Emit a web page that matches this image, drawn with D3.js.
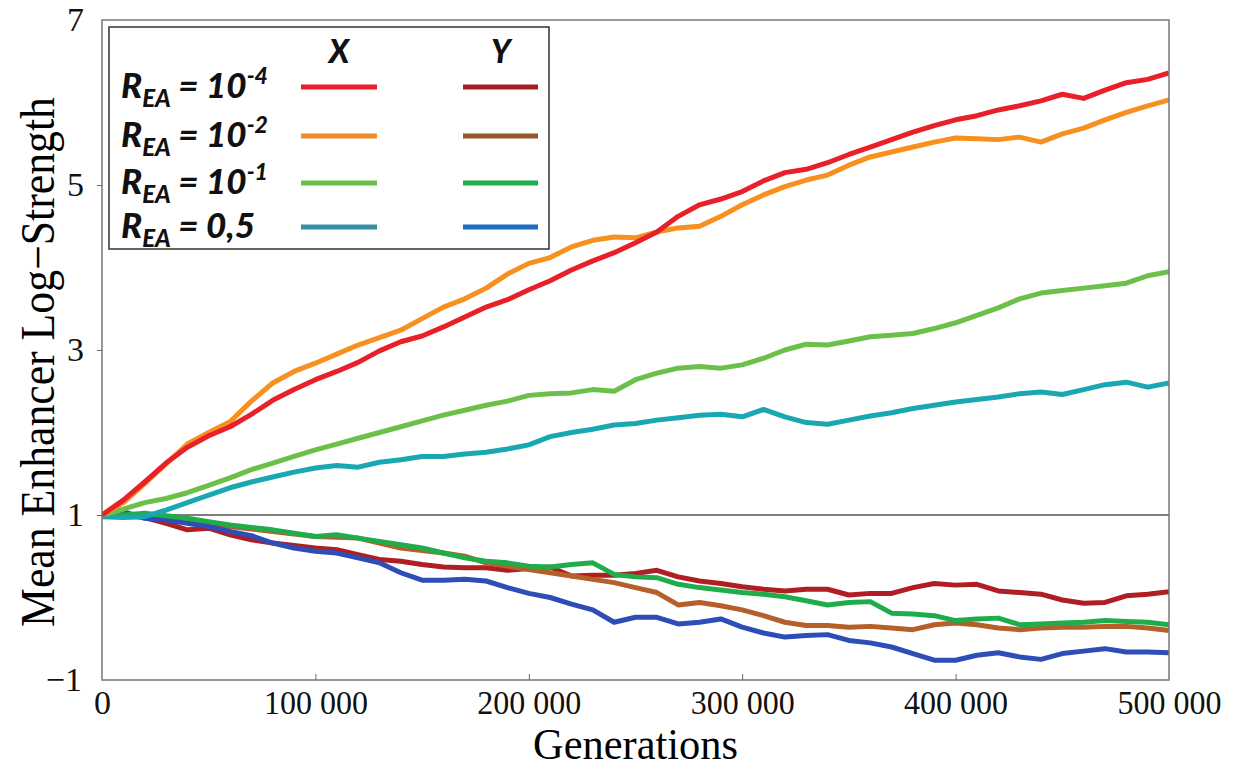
<!DOCTYPE html>
<html>
<head>
<meta charset="utf-8">
<script src="https://cdn.jsdelivr.net/npm/d3@7"></script>
<style>
  body { margin: 0; background: #fff; }
  .axis text { font-family: "Liberation Serif", "Times New Roman", serif; font-size: 34px; fill: #111; }
  .axis line { stroke: #666; }
  .legend text { font-family: Lato, "Open Sans", sans-serif; font-weight: 900; font-style: italic; fill: #111; }
</style>
</head>
<body>
<script>
// generations sampled every 10 000
const generations = d3.range(0, 500001, 10000)

// X enhancers (upper curves)
const redX = [1.00, 1.18, 1.40, 1.63, 1.82, 1.96, 2.07, 2.22, 2.39, 2.52, 2.64, 2.74, 2.85, 2.99, 3.10, 3.17, 3.28, 3.40, 3.52, 3.61,
  3.73, 3.84, 3.97, 4.08, 4.18, 4.30, 4.43, 4.62, 4.76, 4.83, 4.92, 5.05, 5.15, 5.19, 5.27, 5.37, 5.46, 5.55, 5.64, 5.72,
  5.79, 5.84, 5.91, 5.96, 6.02, 6.10, 6.05, 6.15, 6.24, 6.28, 6.36]
const orangeX = [1.00, 1.15, 1.38, 1.62, 1.86, 2.00, 2.13, 2.38, 2.60, 2.74, 2.84, 2.95, 3.06, 3.15, 3.24, 3.38, 3.52, 3.62, 3.75, 3.92,
  4.05, 4.12, 4.25, 4.33, 4.37, 4.36, 4.43, 4.48, 4.50, 4.62, 4.76, 4.88, 4.98, 5.06, 5.12, 5.24, 5.34, 5.40, 5.46, 5.52,
  5.57, 5.56, 5.55, 5.58, 5.52, 5.62, 5.69, 5.79, 5.88, 5.96, 6.03]
const greenX = [1.00, 1.07, 1.15, 1.20, 1.27, 1.36, 1.45, 1.55, 1.63, 1.71, 1.79, 1.86, 1.93, 2.00, 2.07, 2.14, 2.21, 2.27, 2.33, 2.38,
  2.45, 2.47, 2.48, 2.52, 2.50, 2.64, 2.72, 2.78, 2.80, 2.78, 2.82, 2.90, 3.00, 3.07, 3.06, 3.11, 3.16, 3.18, 3.20, 3.26,
  3.33, 3.42, 3.51, 3.62, 3.69, 3.72, 3.75, 3.78, 3.81, 3.90, 3.95]
const tealX = [0.98, 0.97, 0.98, 1.06, 1.15, 1.24, 1.33, 1.40, 1.46, 1.52, 1.57, 1.60, 1.58, 1.64, 1.67, 1.71, 1.71, 1.74, 1.76, 1.80,
  1.85, 1.95, 2.00, 2.04, 2.09, 2.11, 2.15, 2.18, 2.21, 2.22, 2.19, 2.28, 2.19, 2.12, 2.10, 2.15, 2.20, 2.24, 2.29, 2.33,
  2.37, 2.40, 2.43, 2.47, 2.49, 2.46, 2.52, 2.58, 2.61, 2.55, 2.60]

// Y enhancers (lower curves)
const redY = [1.00, 1.00, 0.97, 0.90, 0.82, 0.84, 0.76, 0.70, 0.66, 0.63, 0.60, 0.58, 0.52, 0.46, 0.44, 0.40, 0.37, 0.36, 0.36, 0.33,
  0.35, 0.37, 0.26, 0.27, 0.27, 0.29, 0.33, 0.25, 0.20, 0.17, 0.13, 0.10, 0.08, 0.10, 0.10, 0.03, 0.05, 0.05, 0.12, 0.17,
  0.15, 0.16, 0.08, 0.06, 0.04, -0.03, -0.07, -0.06, 0.02, 0.04, 0.07]
const brownY = [1.00, 1.00, 0.98, 0.95, 0.92, 0.88, 0.86, 0.83, 0.80, 0.77, 0.74, 0.73, 0.72, 0.66, 0.60, 0.57, 0.54, 0.50, 0.42, 0.38,
  0.34, 0.30, 0.26, 0.22, 0.18, 0.12, 0.06, -0.09, -0.06, -0.10, -0.15, -0.22, -0.30, -0.34, -0.34, -0.36, -0.35, -0.37, -0.39, -0.33,
  -0.31, -0.33, -0.37, -0.39, -0.37, -0.36, -0.36, -0.35, -0.35, -0.37, -0.40]
const greenY = [1.00, 1.00, 1.02, 0.99, 0.96, 0.92, 0.88, 0.85, 0.82, 0.78, 0.74, 0.76, 0.72, 0.68, 0.64, 0.60, 0.54, 0.48, 0.44, 0.42,
  0.38, 0.37, 0.40, 0.42, 0.28, 0.25, 0.24, 0.16, 0.12, 0.09, 0.06, 0.04, 0.01, -0.04, -0.09, -0.06, -0.05, -0.19, -0.20, -0.22,
  -0.28, -0.26, -0.25, -0.33, -0.32, -0.31, -0.30, -0.28, -0.29, -0.30, -0.33]
const blueY = [1.00, 1.04, 0.96, 0.94, 0.90, 0.86, 0.80, 0.75, 0.66, 0.60, 0.56, 0.54, 0.48, 0.42, 0.30, 0.21, 0.21, 0.22, 0.20, 0.12,
  0.05, 0.00, -0.08, -0.15, -0.30, -0.24, -0.24, -0.32, -0.30, -0.26, -0.36, -0.43, -0.48, -0.46, -0.45, -0.52, -0.55, -0.60, -0.68, -0.76,
  -0.76, -0.70, -0.67, -0.72, -0.75, -0.68, -0.65, -0.62, -0.66, -0.66, -0.67]

const xTicks = [0, 100000, 200000, 300000, 400000, 500000]
const yTicks = [-1, 1, 3, 5, 7]

const legendLabels = ["10", "10", "10", "0,5"]
const legendSups = ["-4", "-2", "-1", ""]
const legendXColors = ["#e8202a", "#f08a2a", "#6cc04a", "#3a8fa8"]
const legendYColors = ["#a81e24", "#99552b", "#20ad4e", "#1f6cc0"]

const width = 1233, height = 773
const mLeft = 102, mRight = 1169, mTop = 20, mBottom = 680

const svg = d3.select("body").append("svg")
  .attr("width", width)
  .attr("height", height)

const x = d3.scaleLinear().domain([0, 500000]).range([mLeft, mRight])
const y = d3.scaleLinear().domain([-1, 7]).range([mBottom, mTop])

svg.append("clipPath").attr("id", "plot")
  .append("rect")
  .attr("x", mLeft).attr("y", mTop)
  .attr("width", mRight - mLeft).attr("height", mBottom - mTop)

// reference line at 1
svg.append("line")
  .attr("x1", mLeft).attr("x2", mRight)
  .attr("y1", y(1)).attr("y2", y(1))
  .attr("stroke", "#555")
  .attr("stroke-width", 1.5)

let line = d3.line()
  .x((d, i) => x(generations[i]))
  .y(d => y(d))

let curves = svg.append("g").attr("clip-path", "url(#plot)")

// lower curves first, upper ones on top
let lower = [redY, brownY, blueY, greenY]
let lowerColors = ["#b01e23", "#b5602a", "#2e4db6", "#1fad4b"]
lower.forEach((s, k) => {
  curves.append("path")
    .attr("d", line(s))
    .attr("fill", "none")
    .attr("stroke", lowerColors[k])
    .attr("stroke-width", 5)
    .attr("stroke-linejoin", "round")
})
let upper = [tealX, greenX, orangeX, redX]
let upperColors = ["#19a8b2", "#6cc04a", "#f7901e", "#e8202a"]
upper.forEach((s, k) => {
  curves.append("path")
    .attr("d", line(s))
    .attr("fill", "none")
    .attr("stroke", upperColors[k])
    .attr("stroke-width", 5)
    .attr("stroke-linejoin", "round")
})

// frame
svg.append("rect")
  .attr("x", mLeft).attr("y", mTop)
  .attr("width", mRight - mLeft).attr("height", mBottom - mTop)
  .attr("fill", "none")
  .attr("stroke", "#777")
  .attr("stroke-width", 1.5)

// axes
let xAxis = svg.append("g")
  .attr("class", "axis")
  .attr("transform", `translate(0,${mBottom})`)
  .call(d3.axisBottom(x)
    .tickValues(xTicks)
    .tickSize(-6)
    .tickPadding(10)
    .tickFormat(d => d3.format(",")(d).replace(/,/g, " ")))
xAxis.select(".domain").remove()
xAxis.selectAll(".tick").filter(d => d == 0 || d == 500000).select("line").remove()
xAxis.selectAll(".tick").filter(d => d > 0).select("text")
  .attr("textLength", 104)
  .attr("lengthAdjust", "spacingAndGlyphs")

let yAxis = svg.append("g")
  .attr("class", "axis")
  .attr("transform", `translate(${mLeft},0)`)
  .call(d3.axisLeft(y)
    .tickValues(yTicks)
    .tickSize(5)
    .tickPadding(13))
yAxis.select(".domain").remove()
yAxis.selectAll(".tick").filter(d => d == -1 || d == 7).select("line").remove()
yAxis.selectAll(".tick").filter(d => d == -1).select("text").attr("dx", -2)

// axis titles
svg.append("text")
  .attr("x", (mLeft + mRight) / 2)
  .attr("y", 759)
  .attr("text-anchor", "middle")
  .attr("font-family", "Liberation Serif, serif")
  .attr("font-size", 44)
  .attr("textLength", 205)
  .attr("lengthAdjust", "spacingAndGlyphs")
  .text("Generations")

svg.append("text")
  .attr("transform", `translate(54,${(mTop + mBottom) / 2 + 12}) rotate(-90)`)
  .attr("text-anchor", "middle")
  .attr("font-family", "Liberation Serif, serif")
  .attr("font-size", 48)
  .attr("textLength", 530)
  .attr("lengthAdjust", "spacingAndGlyphs")
  .text("Mean Enhancer Log\u2212Strength")

// legend
let legend = svg.append("g").attr("class", "legend")
legend.append("rect")
  .attr("x", 109).attr("y", 27)
  .attr("width", 440).attr("height", 222)
  .attr("fill", "#fff")
  .attr("stroke", "#333")
  .attr("stroke-width", 1.5)

legend.append("text").attr("x", 339).attr("y", 63).attr("text-anchor", "middle")
  .attr("font-size", 32).text("X")
legend.append("text").attr("x", 501).attr("y", 63).attr("text-anchor", "middle")
  .attr("font-size", 32).text("Y")

let rowY = [87, 136, 183, 227]
legendLabels.forEach((lab, i) => {
  let t = legend.append("text")
    .attr("x", 121)
    .attr("y", rowY[i] + 11)
    .attr("font-size", 35)
  t.append("tspan").text("R")
  t.append("tspan").attr("font-size", 24).attr("dy", 9).text("EA")
  t.append("tspan").attr("dy", -9).text(" = " + lab)
  if (legendSups[i]) t.append("tspan").attr("font-size", 23).attr("dy", -14).text(legendSups[i])

  legend.append("line")
    .attr("x1", 301).attr("x2", 377)
    .attr("y1", rowY[i]).attr("y2", rowY[i])
    .attr("stroke", legendXColors[i]).attr("stroke-width", 5)
  legend.append("line")
    .attr("x1", 463).attr("x2", 538)
    .attr("y1", rowY[i]).attr("y2", rowY[i])
    .attr("stroke", legendYColors[i]).attr("stroke-width", 5)
})
</script>
</body>
</html>
